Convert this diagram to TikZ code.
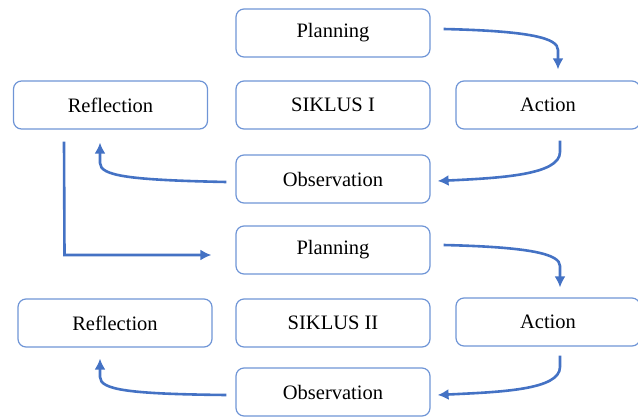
\documentclass[tikz,border=0pt]{standalone}
\usepackage{fontspec}
\setmainfont{Liberation Serif}
\usetikzlibrary{arrows.meta,calc}
\definecolor{boxblue}{HTML}{6F95D6}
\definecolor{arrblue}{HTML}{4472C4}
\begin{document}
\begin{tikzpicture}[x=1pt,y=-1pt,
  box/.style={draw=boxblue,line width=1.2pt,rounded corners=8pt,minimum width=194pt,minimum height=48pt,inner sep=0pt,font=\fontsize{20.5}{24}\selectfont,text=black},
  flow/.style={draw=arrblue,line width=2.6pt,-{Latex[length=11pt,width=11pt]}}]
\useasboundingbox (0,0) rectangle (638,416);
\node[box] (p1) at (333,33) {Planning};
\node[box] (s1) at (333,105) {SIKLUS I};
\node[box,minimum width=184pt] (a1) at (548,105) {Action};
\node[box] (r1) at (110.5,105) {Reflection};
\node[box] (o1) at (333,179) {Observation};
\node[box] (p2) at (333,250) {Planning};
\node[box] (r2) at (115,323) {Reflection};
\node[box] (s2) at (333,323) {SIKLUS II};
\node[box,minimum width=184pt] (a2) at (548,322) {Action};
\node[box] (o2) at (333,392) {Observation};
% cycle I
\draw[flow] ($(p1.east)+(13,-4)$) .. controls (530,31) and (558,38) .. (558,50) -- ($(a1.north)+(10,-11)$);
\draw[flow] ($(a1.south)+(12,11)$) -- (560,152) .. controls (560,175) and (500,178) .. ($(o1.east)+(7,2)$);
\draw[flow] ($(o1.west)+(-9,3)$) .. controls (130,180) and (100,176) .. (100,163) -- ($(r1.south)+(-10.5,13)$);
\draw[flow,rounded corners=0pt] ($(r1.south)+(-46.5,12)$) -- (64.5,255) -- ($(p2.west)+(-24,5)$);
% cycle II
\draw[flow] ($(p2.east)+(13,-5)$) .. controls (530,247) and (560,254) .. (560,266) -- ($(a2.north)+(12,-10)$);
\draw[flow] ($(a2.south)+(12,9)$) -- (560,367) .. controls (560,390) and (500,392) .. ($(o2.east)+(7,3)$);
\draw[flow] ($(o2.west)+(-9,3)$) .. controls (130,394) and (100,390) .. (100,377) -- ($(r2.south)+(-15,11)$);
\end{tikzpicture}
\end{document}
